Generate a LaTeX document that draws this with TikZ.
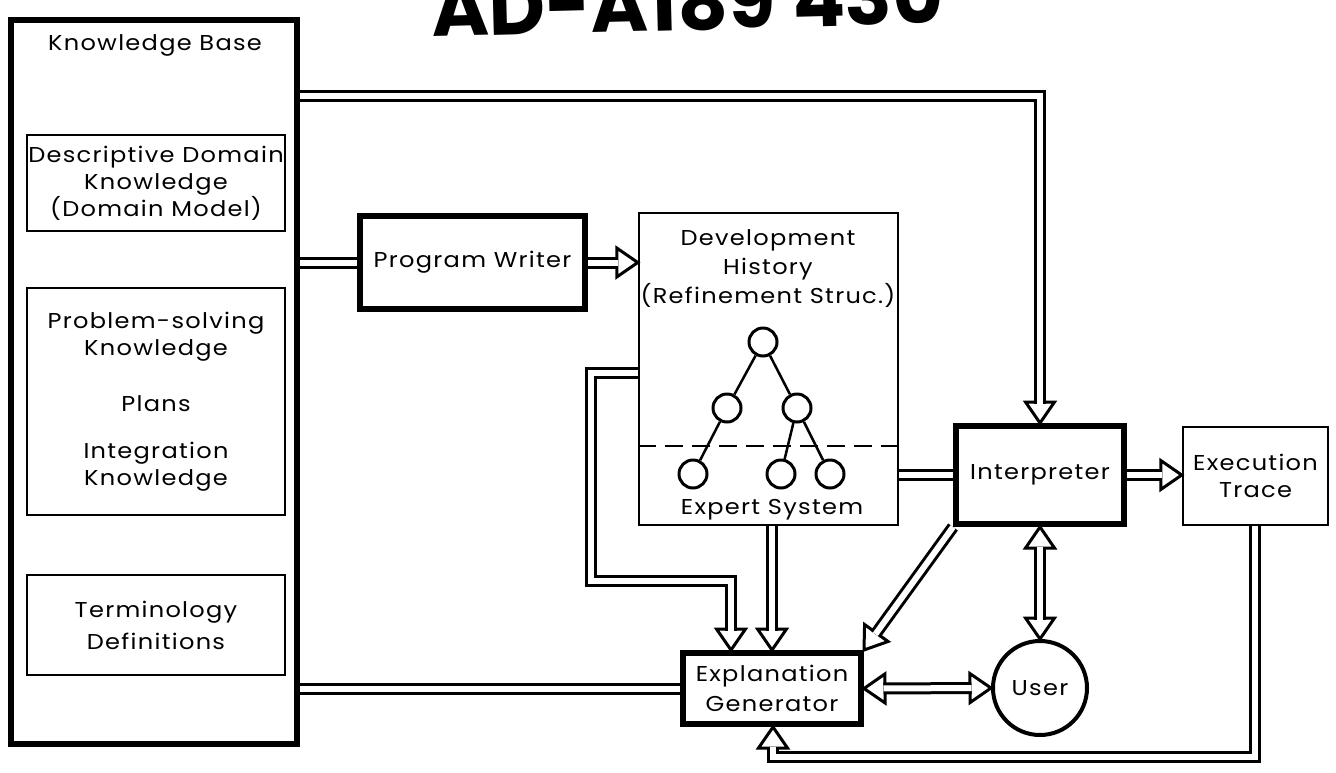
\documentclass[tikz,border=0pt]{standalone}
\usepackage{fontspec}
\setmainfont[LetterSpace=6,FakeStretch=1.12]{Poppins}
\newfontfamily\stampfont{Poppins}
\usetikzlibrary{calc}
\pgfdeclarelayer{bg}
\pgfsetlayers{bg,main}
\tikzset{
  thickbox/.style={draw, line width=6pt, inner sep=0pt},
  thinbox/.style={draw, line width=2.5pt, inner sep=0pt},
  lbl/.style={font=\fontsize{21.5}{27}\selectfont, align=center, inner sep=0pt},
  shaft/.style={draw=black, line width=3pt, double=white, double distance=6pt},
  headst/.style={draw=black, fill=white, line width=3pt, line join=miter},
  treenode/.style={circle, draw, line width=3pt, minimum size=28pt, inner sep=0pt},
  treeedge/.style={line width=2.5pt},
  sepline/.style={line width=2.5pt, dash pattern=on 18pt off 9pt},
}
\newcommand{\ahead}[2]{%
  \path ($(#2)!21pt!(#1)$) coordinate (hbase);
  \filldraw[headst] (#2) -- ($(hbase)!14.5pt!90:(#2)$) -- ($(hbase)!14.5pt!-90:(#2)$) -- cycle;
}
\begin{document}
\begin{tikzpicture}[x=1pt,y=-1pt]
\useasboundingbox (0,0) rectangle (1336,772);

% stamp
\node[font=\fontsize{78}{78}\stampfont\bfseries, anchor=base, rotate=1.5, inner sep=0pt] (stamp) at (688,30) {AD-A189 430};

% boxes
\node[thickbox, minimum width=286pt, minimum height=724pt] (kb) at (154,382) {};
\node[lbl] (kbt) at (155,45) {Knowledge Base};
\node[thinbox, minimum width=258pt, minimum height=96pt, lbl] (dd) at (156,183) {Descriptive Domain\\Knowledge\\(Domain Model)};
\node[thinbox, minimum width=258pt, minimum height=227pt, lbl] (ps) at (156,401.5) {Problem-solving\\Knowledge\\[29pt]Plans\\[20pt]Integration\\Knowledge};
\node[thinbox, minimum width=258pt, minimum height=100pt, lbl] (td) at (156,625) {Terminology\\[5pt]Definitions};

\node[thickbox, minimum width=225pt, minimum height=93pt, lbl] (pw) at (472.5,262.5) {Program Writer};

\node[thinbox, minimum width=259pt, minimum height=312pt] (dh) at (768.5,369) {};
\node[lbl, font=\fontsize{21.5}{29}\selectfont] (dht) at (768,269) {Development\\History\\(Refinement Struc.)};
\node[lbl] (est) at (772,510) {Expert System};

\node[treenode] (t1) at (763,342) {};
\node[treenode] (t2) at (727,408) {};
\node[treenode] (t3) at (797,408) {};
\node[treenode] (t4) at (693,474) {};
\node[treenode] (t5) at (781,474) {};
\node[treenode] (t6) at (830,474) {};
\draw[treeedge] (t1) -- (t2);
\draw[treeedge] (t1) -- (t3);
\draw[treeedge] (t2) -- (t4);
\draw[treeedge] (t3) -- (t5);
\draw[treeedge] (t3) -- (t6);
\coordinate (dsh) at (0,446);
\draw[sepline] (dh.west |- dsh) -- (dh.east |- dsh);

\node[thickbox, minimum width=168pt, minimum height=98pt, lbl] (int) at (1040,475) {Interpreter};
\node[thinbox, minimum width=145pt, minimum height=98pt, lbl] (et) at (1255.5,476) {Execution\\Trace};
\node[thickbox, minimum width=178pt, minimum height=71pt, lbl, font=\fontsize{21.5}{30}\selectfont] (exp) at (772,688.5) {Explanation\\Generator};
\node[circle, draw, line width=4pt, minimum size=94pt, inner sep=0pt, lbl] (user) at (1040,688) {User};

% connectors
\coordinate (c1) at (1040,96);
\coordinate (d1) at (591,373);
\coordinate (d2) at (591,581);
\coordinate (d3) at (731,581);
\coordinate (d4) at (d3 |- exp.north);
\coordinate (e1) at (1255,757);
\coordinate (e2) at (773,757);
\coordinate (e3) at (e2 |- exp.south);
\coordinate (ets) at (e1 |- et.south);
\coordinate (dhs) at (dh.south -| exp.north);
\coordinate (kbi) at (kb.east |- c1);
\coordinate (kbp) at (kb.east |- pw.west);
\coordinate (kbe) at (kb.east |- exp.west);
\coordinate (dhw) at (dh.west |- d1);
\coordinate (pwd) at (pw.east -| dh.west);
\coordinate (dhi) at (int.west -| dh.east);
\coordinate (ite) at (int.east -| et.west);

\begin{pgfonlayer}{bg}
% Knowledge Base -> Interpreter
\ahead{c1}{int.north}
\draw[shaft, shorten >=19.5pt] (kbi) -- (c1) -- (int.north);
% Knowledge Base -- Program Writer
\draw[shaft] (kbp) -- (pw.west);
% Program Writer -> Development History
\ahead{pw.east}{pwd}
\draw[shaft, shorten >=19.5pt] (pw.east) -- (pwd);
% Development History -> Explanation Generator (bent)
\ahead{d3}{d4}
\draw[shaft, shorten >=19.5pt] (dhw) -- (d1) -- (d2) -- (d3) -- (d4);
% Development History -> Explanation Generator (straight)
\ahead{dhs}{exp.north}
\draw[shaft, shorten >=19.5pt] (dhs) -- (exp.north);
% Expert System -- Interpreter
\draw[shaft] (dhi) -- (int.west);
% Interpreter -> Explanation Generator
\ahead{int.south west}{exp.north east}
\draw[shaft, shorten >=19.5pt] (int.south west) -- (exp.north east);
% Interpreter <-> User
\ahead{user.north}{int.south}
\ahead{int.south}{user.north}
\draw[shaft, shorten >=19.5pt, shorten <=19.5pt] (int.south) -- (user.north);
% Interpreter -> Execution Trace
\ahead{int.east}{ite}
\draw[shaft, shorten >=19.5pt] (int.east) -- (ite);
% Explanation Generator <-> User
\ahead{user.west}{exp.east}
\ahead{exp.east}{user.west}
\draw[shaft, shorten >=19.5pt, shorten <=19.5pt] (exp.east) -- (user.west);
% Execution Trace -> Explanation Generator
\ahead{e2}{e3}
\draw[shaft, shorten >=19.5pt] (ets) -- (e1) -- (e2) -- (e3);
% Knowledge Base -- Explanation Generator
\draw[shaft] (kbe) -- (exp.west);
\end{pgfonlayer}
\end{tikzpicture}
\end{document}
